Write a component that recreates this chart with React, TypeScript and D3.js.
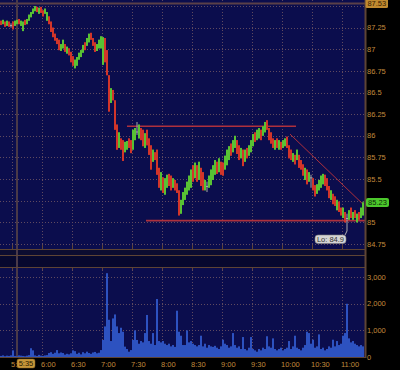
import React from 'react';
import * as d3 from 'd3';

// ---------- data ----------
const startMinute = 5 * 60 + 18; // first bar 5:18
const barMinutes = 2;

// [open, high, low, close]
const ohlc: [number, number, number, number][] = [
  [87.33,87.33,87.28,87.28],[87.29,87.34,87.29,87.34],[87.32,87.32,87.26,87.26],[87.27,87.33,87.27,87.33],
  [87.32,87.32,87.26,87.26],[87.28,87.30,87.25,87.28],[87.32,87.32,87.23,87.23],[87.27,87.33,87.27,87.33],
  [87.29,87.34,87.29,87.34],[87.35,87.35,87.29,87.29],[87.27,87.33,87.27,87.33],[87.21,87.32,87.21,87.32],
  [87.34,87.34,87.28,87.28],[87.29,87.35,87.29,87.35],[87.33,87.40,87.33,87.40],[87.37,87.43,87.37,87.43],
  [87.41,87.47,87.41,87.47],[87.44,87.50,87.44,87.50],[87.49,87.49,87.43,87.43],[87.41,87.48,87.41,87.48],
  [87.49,87.49,87.42,87.42],[87.45,87.45,87.38,87.38],[87.41,87.47,87.41,87.47],[87.33,87.43,87.33,87.43],
  [87.38,87.38,87.29,87.29],[87.32,87.32,87.20,87.20],[87.25,87.25,87.14,87.14],[87.18,87.18,87.10,87.10],
  [87.13,87.13,87.06,87.06],[87.11,87.11,86.99,86.99],[86.98,87.06,86.98,87.06],[87.01,87.11,87.01,87.11],
  [87.06,87.06,86.97,86.97],[86.95,87.03,86.95,87.03],[87.01,87.01,86.93,86.93],[86.97,86.97,86.85,86.85],
  [86.92,86.92,86.81,86.81],[86.78,86.88,86.78,86.88],[86.81,86.91,86.81,86.91],[86.88,86.96,86.88,86.96],
  [86.91,86.99,86.91,86.99],[86.96,87.05,86.96,87.05],[87.08,87.08,86.99,86.99],[87.04,87.13,87.04,87.13],
  [87.08,87.18,87.08,87.18],[87.19,87.19,87.11,87.11],[87.13,87.13,87.04,87.04],[87.08,87.08,86.97,86.97],
  [86.98,87.06,86.98,87.06],[87.01,87.11,87.01,87.11],[87.01,87.15,87.01,87.15],[86.82,87.14,86.82,87.14],
  [87.13,87.13,86.85,86.85],[86.99,86.99,86.70,86.70],[86.70,86.70,86.28,86.28],[86.38,86.55,86.38,86.55],
  [86.53,86.53,86.41,86.41],[86.41,86.41,86.07,86.07],[86.13,86.13,85.84,85.84],[85.86,86.04,85.86,86.04],
  [85.97,85.97,85.84,85.84],[85.95,85.95,85.71,85.71],[85.81,85.93,85.81,85.93],[85.84,85.94,85.84,85.94],
  [85.97,85.97,85.86,85.86],[85.95,85.95,85.80,85.80],[85.84,86.07,85.84,86.07],[85.95,86.09,85.95,86.09],
  [86.05,86.16,86.01,86.05],[85.97,86.13,85.97,86.13],[86.09,86.09,85.95,85.95],[86.07,86.07,85.88,85.88],
  [85.86,86.03,85.86,86.03],[86.07,86.07,85.89,85.89],[85.97,85.97,85.78,85.78],[85.89,85.89,85.61,85.61],
  [85.70,85.84,85.70,85.84],[85.81,85.81,85.72,85.72],[85.84,85.84,85.55,85.55],[85.63,85.63,85.40,85.40],
  [85.37,85.58,85.37,85.58],[85.52,85.52,85.34,85.34],[85.32,85.51,85.32,85.51],[85.40,85.55,85.40,85.55],
  [85.56,85.56,85.42,85.42],[85.54,85.54,85.37,85.37],[85.40,85.51,85.40,85.51],[85.49,85.49,85.37,85.37],
  [85.45,85.45,85.34,85.34],[85.37,85.37,85.08,85.08],[85.10,85.26,85.10,85.26],[85.20,85.35,85.20,85.35],
  [85.26,85.40,85.26,85.40],[85.32,85.47,85.32,85.47],[85.37,85.54,85.37,85.54],[85.40,85.61,85.40,85.61],
  [85.66,85.66,85.47,85.47],[85.51,85.69,85.51,85.69],[85.66,85.66,85.47,85.47],[85.49,85.70,85.49,85.70],
  [85.63,85.63,85.42,85.42],[85.58,85.58,85.37,85.37],[85.37,85.49,85.37,85.49],[85.42,85.47,85.35,85.42],
  [85.40,85.54,85.40,85.54],[85.43,85.61,85.43,85.61],[85.49,85.66,85.49,85.66],[85.55,85.72,85.55,85.72],
  [85.70,85.70,85.56,85.56],[85.58,85.74,85.58,85.74],[85.70,85.70,85.55,85.55],[85.69,85.69,85.54,85.54],
  [85.61,85.77,85.61,85.77],[85.66,85.84,85.66,85.84],[85.72,85.88,85.72,85.88],[85.91,85.91,85.77,85.77],
  [85.81,85.95,85.81,85.95],[85.86,86.00,85.86,86.00],[85.95,85.95,85.79,85.79],[85.89,85.89,85.72,85.72],
  [85.74,85.86,85.74,85.86],[85.84,85.84,85.65,85.65],[85.70,85.84,85.70,85.84],[85.86,85.86,85.74,85.74],
  [85.77,85.89,85.77,85.89],[85.81,85.95,85.81,85.95],[85.88,86.02,85.88,86.02],[86.04,86.04,85.93,85.93],
  [85.95,86.07,85.95,86.07],[85.97,86.09,85.97,86.09],[86.07,86.07,85.95,85.95],[86.00,86.11,86.00,86.11],
  [86.04,86.16,86.04,86.16],[86.18,86.18,86.07,86.07],[86.09,86.09,85.95,85.95],[86.04,86.04,85.91,85.91],
  [85.97,85.97,85.86,85.86],[85.84,85.95,85.84,85.95],[85.97,85.97,85.86,85.86],[85.84,85.95,85.84,85.95],
  [85.93,85.93,85.84,85.84],[85.86,85.95,85.86,85.95],[85.88,85.97,85.88,85.97],[85.99,85.99,85.86,85.86],
  [85.89,85.89,85.74,85.74],[85.84,85.84,85.72,85.72],[85.70,85.80,85.70,85.80],[85.78,85.78,85.67,85.67],
  [85.72,85.84,85.72,85.84],[85.78,85.78,85.63,85.63],[85.72,85.72,85.61,85.61],[85.67,85.67,85.54,85.54],
  [85.49,85.63,85.49,85.63],[85.61,85.61,85.44,85.44],[85.47,85.58,85.47,85.58],[85.52,85.55,85.40,85.52],
  [85.51,85.51,85.37,85.37],[85.43,85.43,85.30,85.30],[85.33,85.44,85.33,85.44],[85.37,85.49,85.37,85.49],
  [85.40,85.54,85.40,85.54],[85.44,85.56,85.44,85.56],[85.55,85.55,85.42,85.42],[85.51,85.51,85.37,85.37],
  [85.42,85.42,85.28,85.28],[85.26,85.37,85.26,85.37],[85.33,85.33,85.21,85.21],[85.30,85.30,85.19,85.19],
  [85.14,85.26,85.14,85.26],[85.24,85.24,85.12,85.12],[85.17,85.17,85.08,85.08],[85.05,85.17,85.05,85.17],
  [85.12,85.12,85.00,85.00],[85.05,85.10,84.90,85.05],[85.03,85.14,85.03,85.14],[85.17,85.17,85.05,85.05],
  [85.03,85.12,85.03,85.12],[85.14,85.14,85.05,85.05],[85.00,85.10,85.00,85.10],[85.12,85.12,85.03,85.03],
  [85.05,85.17,85.05,85.17],[85.08,85.24,85.08,85.23],
];

const volume: number[] = [
  40,60,30,50,40,60,250,40,30,60,
  50,40,30,50,70,330,250,60,40,80,
  50,40,60,70,150,180,120,160,260,140,
  170,150,90,120,100,140,250,220,120,160,
  100,180,140,200,150,120,170,190,140,160,
  260,640,1150,3150,1400,600,1450,1600,1150,900,
  1100,950,390,300,200,260,640,1000,640,500,
  600,550,900,1580,600,500,900,450,2180,600,
  550,600,500,450,500,400,450,380,1740,950,
  800,450,450,1000,550,600,500,450,400,450,
  800,400,500,350,450,400,380,420,350,300,
  400,650,500,450,350,400,900,450,350,400,
  300,750,300,250,350,750,300,250,200,300,
  250,350,300,780,400,350,700,300,250,300,
  350,250,300,350,600,300,400,800,350,300,
  250,350,450,950,900,500,650,350,400,850,
  300,350,250,300,400,350,650,400,600,450,
  500,800,900,2000,700,550,600,500,450,400,
  450,400,
];

// grid levels (all) and the labelled ones (87.5 and 85.25 sit under the price boxes)
const priceTicks = [84.75, 85, 85.25, 85.5, 85.75, 86, 86.25, 86.5, 86.75, 87, 87.25, 87.5];
const priceLabels = [84.75, 85, 85.5, 85.75, 86, 86.25, 86.5, 86.75, 87, 87.25];
const volumeTicks = [0, 1000, 2000, 3000];
const timeTicks = ['5:30','6:00','6:30','7:00','7:30','8:00','8:30','9:00','9:30','10:00','10:30','11:00'];

const referenceLevel = 87.53;
const lastPrice = 85.23;
const lowPrice = 84.9;
const lowTime = '11:04';
const cursorTime = '5:35';

// trend lines: [startTime, startPrice, endTime, endPrice]
const trendLines: [string, number, string, number][] = [
  ['7:25', 86.11, '10:14', 86.11],
  ['7:44', 85.02, '11:23', 85.02],
  ['10:08', 86.02, '11:21', 85.21],
];

// ---------- helpers ----------
const toMin = (s: string) => {
  const [h, m] = s.split(':').map(Number);
  return h * 60 + m;
};
const fmtPrice = (v: number) => String(+v.toFixed(2));
const fmtVol = d3.format(',');

const W = 400, H = 370;
const plotR = 365;
const priceBottom = 249;
const volTop = 267, volBottom = 357;

const FONT = 'Liberation Sans, Arial, sans-serif';
const NAVY = '#0b0d4d';
const FRAME = '#5e4434';
const GRID = '#5f4a60';
const TXT = '#c08a3c';
const UP = '#58c234';
const DOWN = '#d2352a';
const FLAT = '#a8a8a8';
const VOL = '#2d52c0';
const TREND = '#c0343c';

export default function App() {
  const x = d3.scaleLinear().domain([startMinute, startMinute + 365]).range([0, 365]);
  const y = d3.scaleLinear().domain([84.75, 87.5]).range([244, 6]);
  const yv = d3.scaleLinear().domain([0, 3000]).range([volBottom, 277.2]);

  const barX = (i: number) => x(startMinute + i * barMinutes);
  const cursorX = x(toMin(cursorTime));
  const lowX = x(toMin(lowTime)) + 1;

  return (
    <svg width={W} height={H} style={{ position: 'absolute', left: 0, top: 0, display: 'block' }}>
      <defs>
        <clipPath id="firstLabelClip">
          <rect x={0} y={355} width={cursorX} height={15} />
        </clipPath>
      </defs>
      <rect x={0} y={0} width={W} height={H} fill="#000" />
      {/* panels */}
      <rect x={0} y={0} width={plotR} height={priceBottom} fill={NAVY} />
      <rect x={0} y={priceBottom} width={plotR} height={6} fill="#0c0c30" />
      <rect x={0} y={256} width={plotR} height={volTop - 256} fill="#07082e" />
      <rect x={0} y={volTop} width={plotR} height={volBottom - volTop} fill={NAVY} />

      {/* horizontal grid - price */}
      {priceTicks.map((v) => {
        const yy = Math.round(y(v)) + 0.5;
        return <line key={'pg' + v} x1={0} x2={plotR} y1={yy} y2={yy} stroke={GRID} strokeDasharray="1,2" />;
      })}
      {/* horizontal grid - volume */}
      {volumeTicks.filter((v) => v > 0).map((v) => {
        const yy = Math.round(yv(v)) + 0.5;
        return <line key={'vg' + v} x1={0} x2={plotR} y1={yy} y2={yy} stroke={GRID} strokeDasharray="1,2" />;
      })}
      {/* vertical grid */}
      {timeTicks.map((t) => {
        const xx = Math.round(x(toMin(t))) + 0.5;
        return (
          <g key={'tg' + t}>
            <line x1={xx} x2={xx} y1={0} y2={priceBottom} stroke={GRID} strokeDasharray="1,2" />
            <line x1={xx} x2={xx} y1={volTop} y2={volBottom} stroke={GRID} strokeDasharray="1,2" />
            <line x1={xx} x2={xx} y1={priceBottom - 4} y2={priceBottom} stroke={FRAME} />
            <line x1={xx} x2={xx} y1={volTop} y2={volTop + 3} stroke={FRAME} />
          </g>
        );
      })}

      {/* reference level line */}
      <line x1={0} x2={plotR} y1={y(referenceLevel)} y2={y(referenceLevel)} stroke="#5a4048" strokeWidth={2} />

      {/* cursor */}
      <line x1={cursorX} x2={cursorX} y1={0} y2={volBottom} stroke="#4a3a48" strokeWidth={2} />

      {/* trend lines */}
      {trendLines.map(([t1, p1, t2, p2], i) => (
        <line key={'tl' + i} x1={x(toMin(t1))} y1={y(p1)} x2={x(toMin(t2))} y2={y(p2)}
          stroke={TREND} strokeWidth={i === 2 ? 1 : 1.6} opacity={0.9} />
      ))}

      {/* candles */}
      {ohlc.map(([o, h, l, c], i) => {
        const xx = barX(i);
        const col = c > o ? UP : c < o ? DOWN : FLAT;
        const top = y(Math.max(o, c));
        const bot = y(Math.min(o, c));
        return (
          <g key={'c' + i}>
            <line x1={xx + 1} x2={xx + 1} y1={y(h)} y2={y(l)} stroke={col} strokeWidth={1} />
            <rect x={xx} y={top} width={2} height={Math.max(1, bot - top)} fill={col} />
          </g>
        );
      })}

      {/* volume */}
      {volume.map((v, i) => (
        <rect key={'v' + i} x={barX(i)} y={yv(v)} width={2} height={volBottom - yv(v)} fill={VOL} />
      ))}

      {/* frame lines */}
      <line x1={0} x2={plotR} y1={priceBottom + 0.5} y2={priceBottom + 0.5} stroke={FRAME} />
      <line x1={0} x2={plotR} y1={255.5} y2={255.5} stroke={FRAME} />
      <line x1={0} x2={plotR} y1={volTop + 0.5} y2={volTop + 0.5} stroke={FRAME} />
      <line x1={0} x2={plotR} y1={volBottom + 0.5} y2={volBottom + 0.5} stroke={FRAME} />
      <line x1={plotR + 0.5} x2={plotR + 0.5} y1={0} y2={volBottom + 1} stroke={FRAME} strokeWidth={2} />

      {/* right axis labels */}
      {priceLabels.map((v) => (
        <text key={'pl' + v} x={367} y={y(v)} dy="0.35em" fill={TXT} fontSize={7.5} fontFamily={FONT}>
          {fmtPrice(v)}
        </text>
      ))}
      {volumeTicks.map((v) => (
        <text key={'vl' + v} x={367} y={yv(v)} dy="0.35em" fill={TXT} fontSize={7.5} fontFamily={FONT}>
          {fmtVol(v)}
        </text>
      ))}
      {/* bottom labels */}
      {timeTicks.map((t, i) => (
        <text key={'tl' + t} x={x(toMin(t)) - 1} y={364} dy="0.35em" fill={TXT} fontSize={7.5} fontFamily={FONT}
          clipPath={i === 0 ? 'url(#firstLabelClip)' : undefined}>
          {t}
        </text>
      ))}

      {/* reference level box */}
      <rect x={365.5} y={y(referenceLevel) - 5} width={22.5} height={9.5} rx={1.5} fill="#c08a30" />
      <text x={376.8} y={y(referenceLevel)} dy="0.35em" textAnchor="middle" fill="#3a2200" fontSize={7.5} fontFamily={FONT}>
        {referenceLevel.toFixed(2)}
      </text>

      {/* last price box */}
      <rect x={366} y={y(lastPrice) - 4.5} width={23} height={9} rx={2} fill="#4cc82c" />
      <text x={377.5} y={y(lastPrice)} dy="0.35em" textAnchor="middle" fill="#0c2a08" fontSize={7.5} fontFamily={FONT}>
        {lastPrice.toFixed(2)}
      </text>

      {/* cursor time box */}
      <rect x={cursorX} y={359} width={18} height={9} rx={2} fill="#c8983a" stroke="#8a6020" strokeWidth={0.5} />
      <text x={cursorX + 9} y={363.5} dy="0.35em" textAnchor="middle" fill="#2a1a00" fontSize={7.5} fontFamily={FONT}>
        {cursorTime}
      </text>

      {/* low label */}
      <line x1={lowX} x2={lowX - 2} y1={y(lowPrice)} y2={235} stroke="#b0b0b0" />
      <rect x={315} y={235} width={31} height={8.5} rx={3} fill="#d4d4d4" stroke="#808080" strokeWidth={0.6} />
      <text x={330.5} y={239.3} dy="0.35em" textAnchor="middle" fill="#303030" fontSize={7.5} fontFamily={FONT}>
        {'Lo: ' + lowPrice}
      </text>
    </svg>
  );
}
